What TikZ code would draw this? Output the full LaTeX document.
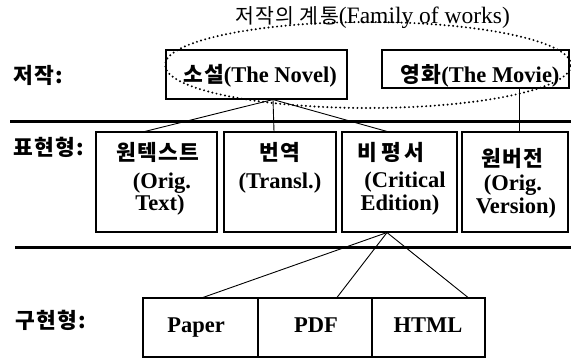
\documentclass[tikz,border=0pt]{standalone}
\usepackage{fontspec}
\setmainfont{Liberation Serif}
\newfontfamily\kr{Noto Sans CJK KR}
\newfontfamily\krs[LetterSpace=6]{Noto Sans CJK KR}
\usetikzlibrary{calc}
\begin{document}
\begin{tikzpicture}[x=1pt,y=-1pt,
  box/.style={draw, line width=1.1pt, inner sep=0pt},
  conn/.style={line width=0.9pt},
  rulebar/.style={line width=3.6pt},
  famdots/.style={line width=2.2pt, line cap=round, dash pattern=on 0pt off 4.3pt},
  en/.style={font=\fontsize{22.5}{26}\selectfont\bfseries, anchor=base, inner sep=0pt},
  ko/.style={font=\krs\fontsize{21.5}{24}\selectfont\bfseries, anchor=base, inner sep=0pt},
  lab/.style={font=\krs\fontsize{21.5}{24}\selectfont\bfseries, anchor=base west, inner sep=0pt}]
\useasboundingbox (0,0) rectangle (571,358);

% rules
\coordinate (r1a) at (10,121.5);
\coordinate (r1b) at (571,121.5);
\coordinate (r2a) at (15,247.5);
\coordinate (r2b) at (571,247.5);
\draw[rulebar] (r1a) -- (r1b);
\draw[rulebar] (r2a) -- (r2b);

% level labels
\node[lab] (l1) at (13,84) {저작:};
\node[lab] (l2) at (13,156) {표현형:};
\node[lab] (l3) at (15,329) {구현형:};

% works
\node[box, minimum width=181pt, minimum height=49pt] (novel) at (256.5,74.5) {};
\node[box, minimum width=187pt, minimum height=38pt] (movie) at (475.5,69) {};
\node[en] (tnovel) at (260,83) {{\krs\fontsize{21.5}{24}\selectfont 소설}(The Novel)};
\node[en] (tmovie) at (480,83) {{\krs\fontsize{21.5}{24}\selectfont 영화}(The Movie)};

% expressions
\node[box, minimum width=121pt, minimum height=100pt] (orig) at (156.5,182) {};
\node[box, minimum width=112pt, minimum height=100pt] (transl) at (280,182) {};
\node[box, minimum width=115pt, minimum height=100pt] (crit) at (399.5,182) {};
\node[box, minimum width=106pt, minimum height=100pt] (origv) at (515,182) {};

\node[ko] (o1) at (158,161) {원텍스트};
\node[en] (o2) at (162,189) {(Orig.};
\node[en] (o3) at (160,211) {Text)};
\node[ko] (t1) at (280,161) {번역};
\node[en] (t2) at (280,189) {(Transl.)};
\node[ko] (c1) at (391,161) {비\,평\,서};
\node[en] (c2) at (405,188) {(Critical};
\node[en] (c3) at (400,211) {Edition)};
\node[ko] (v1) at (512,167) {원버전};
\node[en] (v2) at (513,191) {(Orig.};
\node[en] (v3) at (516,214) {Version)};

% manifestations
\node[box, minimum width=115pt, minimum height=59pt] (paper) at (200.5,327.5) {};
\node[box, minimum width=114pt, minimum height=59pt] (pdf) at (315,327.5) {};
\node[box, minimum width=113pt, minimum height=59pt] (html) at (428.5,327.5) {};
\node[en] (tp) at (196,333) {Paper};
\node[en] (tf) at (316,333) {PDF};
\node[en] (th) at (428,333) {HTML};

% connectors
\draw[conn] ([xshift=16.5pt]novel.south) -- ([xshift=-11.5pt]orig.north);
\draw[conn] ([xshift=16.5pt]novel.south) -- ([xshift=-6pt]transl.north);
\draw[conn] ([xshift=16.5pt]novel.south) -- ([xshift=-12.5pt]crit.north);
\draw[conn] ([xshift=43.5pt]movie.south) -- ([xshift=4pt]origv.north);
\draw[conn] ([xshift=-12.5pt]crit.south) -- ([xshift=2.5pt]paper.north);
\draw[conn] ([xshift=-12.5pt]crit.south) -- ([xshift=22pt]pdf.north);
\draw[conn] ([xshift=-12.5pt]crit.south) -- ([xshift=39.5pt]html.north);

% family of works
\draw[famdots] (368,65) ellipse [x radius=203pt, y radius=43pt];
\node[anchor=base, inner sep=0pt] (title) at (372.5,24)
  {{\krs\fontsize{20.5}{24}\selectfont 저작의 계통}{\fontsize{23.5}{26}\selectfont(Family of works)}};
\end{tikzpicture}
\end{document}
